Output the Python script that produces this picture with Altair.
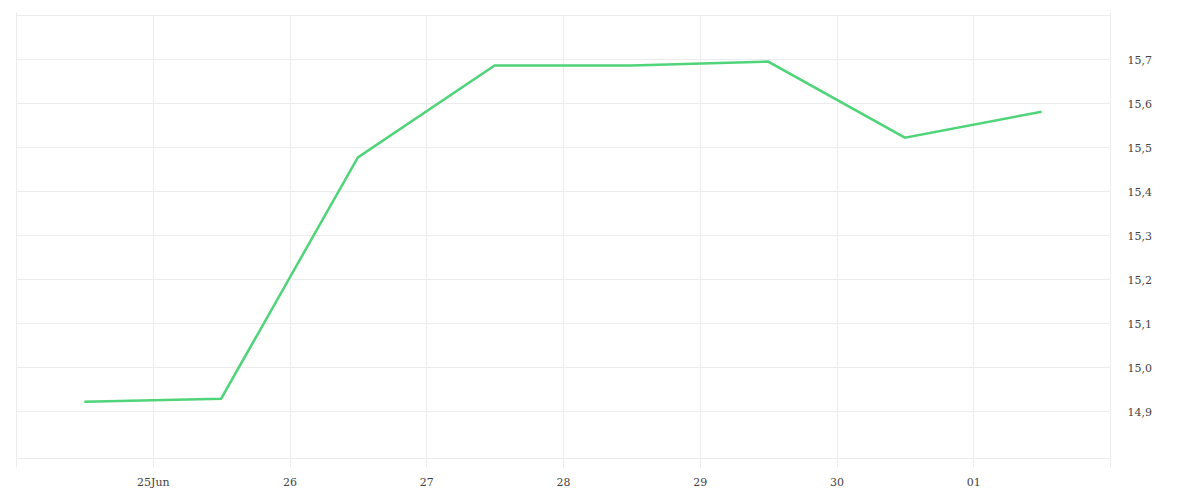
import altair as alt
import pandas as pd

dates = ["2023-06-24T12:00:00", "2023-06-25T12:00:00", "2023-06-26T12:00:00",
         "2023-06-27T12:00:00", "2023-06-28T12:00:00", "2023-06-29T12:00:00",
         "2023-06-30T12:00:00", "2023-07-01T12:00:00"]
values = [14.920, 14.927, 15.476, 15.685, 15.685, 15.694, 15.521, 15.580]
y_ticks = [14.9, 15.0, 15.1, 15.2, 15.3, 15.4, 15.5, 15.6, 15.7, 15.8]

df = pd.DataFrame({"date": dates, "value": values})

start = alt.DateTime(year=2023, month=6, date=24)
end = alt.DateTime(year=2023, month=7, date=2)
x_ticks = [alt.DateTime(year=2023, month=6, date=d) for d in range(24, 31)] + \
          [alt.DateTime(year=2023, month=7, date=d) for d in (1, 2)]

grid_col = "#ececec"
xscale = alt.Scale(domain=[start, end])

line = alt.Chart(df).mark_line(color="#4fd47a", strokeWidth=2.5).encode(
    x=alt.X("date:T", scale=xscale, title=None,
            axis=alt.Axis(values=x_ticks, grid=True, gridColor=grid_col,
                          tickSize=9, tickColor=grid_col, domain=False,
                          labelPadding=9,
                          labelExpr="(date(datum.value) == 24 && month(datum.value) == 5) || (date(datum.value) == 2 && month(datum.value) == 6) ? '' : (date(datum.value) == 25 && month(datum.value) == 5 ? '25Jun' : timeFormat(datum.value, '%d'))")),
    y=alt.Y("value:Q", scale=alt.Scale(domain=[14.792, 15.8], nice=False, zero=False),
            title=None,
            axis=alt.Axis(orient="right", values=y_ticks, grid=True, gridColor=grid_col,
                          ticks=False, domain=False, labelPadding=17, labelOffset=2,
                          labelExpr="datum.value > 15.75 ? '' : replace(format(datum.value, '.1f'), '.', ',')")),
)

top = alt.Chart(df).mark_point(opacity=0).encode(
    x=alt.X("date:T", scale=xscale, title=None,
            axis=alt.Axis(orient="top", values=[start, end], labels=False, grid=False,
                          domain=False, tickSize=3, tickColor=grid_col)),
    y=alt.value(0),
)

chart = alt.layer(line, top).resolve_axis(x="independent").properties(
    width=1094, height=443,
    autosize=alt.AutoSizeParams(type="none"),
    padding={"left": 8, "top": 7, "right": 80, "bottom": 40},
).configure_view(stroke=grid_col).configure_axis(
    labelFont="DejaVu Serif", labelFontSize=11, labelColor="#444444",
    labelFontWeight="normal",
)

chart.save("out.html", embed_options={"renderer": "svg", "actions": False})
